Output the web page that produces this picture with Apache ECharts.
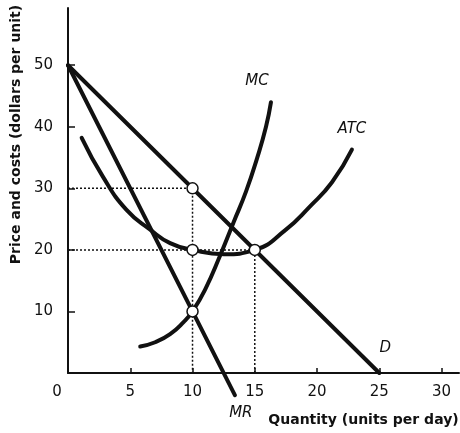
<!DOCTYPE html>
<html>
<head>
<meta charset="utf-8">
<script src="https://cdn.jsdelivr.net/npm/echarts@6/dist/echarts.min.js"></script>
<style>html,body{margin:0;padding:0;background:#fff}#c{width:460px;height:433px}</style>
</head>
<body>
<div id="c"></div>
<script>
// Data
var demandD = [[0, 50], [25, 0]];
var marginalRevenueMR = [[0, 50], [13.4, -3.6]];
var marginalCostMC = [[5.8, 4.3], [7, 5], [8.2, 6.3], [9.3, 8.3], [10, 10], [11, 13.5], [12.2, 19], [13.3, 24.5], [14.3, 29.5], [15.2, 35], [15.9, 40], [16.3, 44]];
var averageTotalCostATC = [[1.1, 38.2], [2.8, 31.9], [4.7, 26.5], [6.6, 23.3], [8.2, 21.1], [10, 20], [12.5, 19.3], [15, 20], [17.5, 23.3], [19.4, 27], [21.2, 31], [22.8, 36.3]];
var guidePrice30 = [[0, 30], [10, 30], [10, 0]];
var guideCost20 = [[0, 20], [15, 20], [15, 0]];
var keyPoints = [[10, 30], [10, 20], [15, 20], [10, 10]];
var xTicks = [0, 5, 10, 15, 20, 25, 30];
var yTicks = [10, 20, 30, 40, 50];

var FONT = 'DejaVu Sans';
var chart = echarts.init(document.getElementById('c'));
var black = '#111';
function curve(name, data, smooth, labelOpt) {
  var d = data.map(function (p, i) {
    if (i === data.length - 1 && labelOpt) {
      return { value: p, label: Object.assign({ show: true, formatter: name, color: black, fontFamily: FONT, fontStyle: 'italic', fontSize: 15 }, labelOpt) };
    }
    return p;
  });
  return { type: 'line', name: name, data: d, smooth: smooth, showSymbol: true, symbol: 'circle', symbolSize: 0, clip: false,
    lineStyle: { color: black, width: 4, cap: 'round' }, itemStyle: { color: black }, z: 3, silent: true };
}
chart.setOption({
  animation: false,
  backgroundColor: '#fff',
  grid: { left: 68, right: 1, top: 8, bottom: 60, containLabel: false, outerBoundsMode: 'none' },
  xAxis: {
    type: 'value', min: 0, max: 31.4, interval: 5,
    name: 'Quantity (units per day)', nameLocation: 'middle', nameGap: 40,
    nameTextStyle: { color: black, fontFamily: FONT, fontSize: 14, fontWeight: 'bold', padding: [0, 0, 0, 200] },
    axisLine: { onZero: false, lineStyle: { color: black, width: 2 } },
    axisTick: { inside: true, length: 5, lineStyle: { color: black, width: 1.5 } },
    splitLine: { show: false },
    axisLabel: {
      showMaxLabel: false, margin: 12, color: black, fontFamily: FONT, fontSize: 15,
      formatter: function (v) { return xTicks.indexOf(v) >= 0 ? (v === 0 ? '{z|0}' : String(v)) : ''; },
      rich: { z: { padding: [0, 22, 0, 0], fontFamily: FONT, fontSize: 15, color: black } }
    }
  },
  yAxis: {
    type: 'value', min: 0, max: 59.3, interval: 10,
    name: 'Price and costs (dollars per unit)', nameLocation: 'middle', nameGap: 43, nameRotate: 90,
    nameTextStyle: { color: black, fontFamily: FONT, fontSize: 14, fontWeight: 'bold', padding: [0, 0, 0, 112] },
    axisLine: { lineStyle: { color: black, width: 2 } },
    axisTick: { inside: true, length: 7, lineStyle: { color: black, width: 1.5 } },
    splitLine: { show: false },
    axisLabel: {
      showMaxLabel: false, showMinLabel: false, margin: 15, color: black, fontFamily: FONT, fontSize: 15,
      formatter: function (v) { return yTicks.indexOf(v) >= 0 ? String(v) : ''; }
    }
  },
  series: [
    { type: 'line', data: guidePrice30, showSymbol: false, symbol: 'none', lineStyle: { color: black, width: 1.5, type: [2, 2] }, z: 2, silent: true },
    { type: 'line', data: guideCost20, showSymbol: false, symbol: 'none', lineStyle: { color: black, width: 1.5, type: [2, 2] }, z: 2, silent: true },
    curve('D', demandD, false, { position: 'top', offset: [6, -12] }),
    curve('MR', marginalRevenueMR, false, { position: 'bottom', offset: [6, 5] }),
    curve('MC', marginalCostMC, true, { position: 'top', offset: [-14, -9] }),
    curve('ATC', averageTotalCostATC, true, { position: 'top', offset: [0, -8] }),
    { type: 'scatter', data: keyPoints, symbol: 'circle', symbolSize: 11, z: 5, silent: true,
      itemStyle: { color: '#fff', opacity: 1, borderColor: black, borderWidth: 1.5 } }
  ]
});
</script>
</body>
</html>
